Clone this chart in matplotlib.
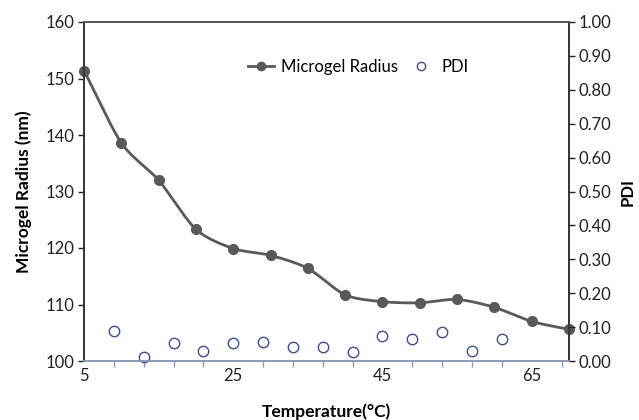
import numpy as np
import matplotlib
matplotlib.use("Agg")
import matplotlib.pyplot as plt
from matplotlib.lines import Line2D

plt.rcParams['font.family'] = ['Lato', 'DejaVu Sans']

temp_radius = [5, 10, 15, 20, 25, 30, 35, 40, 45, 50, 55, 60, 65, 70]
radius = [151.4, 138.6, 132.0, 123.3, 119.9, 118.7, 116.4, 111.7, 110.5, 110.3, 110.9, 109.5, 107.0, 105.6]
temp_pdi = [9, 13, 17, 21, 25, 29, 33, 37, 41, 45, 49, 53, 57, 61]
pdi = [0.088, 0.012, 0.054, 0.029, 0.052, 0.056, 0.040, 0.041, 0.027, 0.073, 0.066, 0.085, 0.030, 0.066]
xticks = [5, 25, 45, 65]
yticks_left = [100, 110, 120, 130, 140, 150, 160]
yticks_right = [0.0, 0.1, 0.2, 0.3, 0.4, 0.5, 0.6, 0.7, 0.8, 0.9, 1.0]


def catmull_rom(x, y, n=30, tension=0.4):
    x = np.asarray(x, float); y = np.asarray(y, float)
    px = np.concatenate([[2*x[0]-x[1]], x, [2*x[-1]-x[-2]]])
    py = np.concatenate([[2*y[0]-y[1]], y, [2*y[-1]-y[-2]]])
    xs, ys = [], []
    t = np.linspace(0, 1, n)
    for i in range(1, len(px)-2):
        for arr, out in ((px, xs), (py, ys)):
            p0, p1, p2, p3 = arr[i-1], arr[i], arr[i+1], arr[i+2]
            m1 = tension*(p2-p0)
            m2 = tension*(p3-p1)
            h00 = 2*t**3-3*t**2+1; h10 = t**3-2*t**2+t
            h01 = -2*t**3+3*t**2; h11 = t**3-t**2
            out.append(h00*p1 + h10*m1 + h01*p2 + h11*m2)
    return np.concatenate(xs), np.concatenate(ys)


fig = plt.figure(figsize=(6.39, 4.20), dpi=100)
ax = fig.add_axes([84/639, 1-361/420, (569-84)/639, (361-22)/420])
ax2 = ax.twinx()

line_c = '#595959'
sx, sy = catmull_rom(temp_radius, radius)
ax.plot(sx, sy, color=line_c, lw=2.0, zorder=3)
ax.plot(temp_radius, radius, 'o', color=line_c, ms=7, zorder=4, clip_on=False)
ax2.plot(temp_pdi, pdi, 'o', mfc='none', mec='#3f4f8c', mew=1.0, ms=7.5, clip_on=False)

ax.set_xlim(5, 70)
ax.set_ylim(100, 160)
ax2.set_ylim(0, 1.0)
ax.set_xticks(xticks)
ax.set_xticks(np.arange(5, 71, 4), minor=True)
ax.set_yticks(yticks_left)
ax2.set_yticks(yticks_right)
ax2.set_yticklabels([f'{v:.2f}' for v in yticks_right])

fs = 12
ax.tick_params(axis='y', direction='out', length=4, width=1, colors='#222222', labelsize=fs, pad=3)
ax2.tick_params(axis='y', direction='out', length=4, width=1, colors='#222222', labelsize=fs, pad=3)
ax.tick_params(axis='x', which='both', direction='out', length=4, width=1, color='#8d9bb8', labelcolor='#222222', labelsize=fs, pad=5)
ax.tick_params(axis='x', which='major', length=0)
for a in (ax, ax2):
    a.spines['left'].set_color('#333333')
    a.spines['right'].set_color('#333333')
    a.spines['top'].set_color('#555555')
    a.spines['bottom'].set_color('#8d9bb8')
    for s in a.spines.values():
        s.set_linewidth(1.2)

ax.set_ylabel('Microgel Radius (nm)', fontsize=12.5, fontweight='bold', labelpad=10)
ax2.set_ylabel('PDI', fontsize=12, fontweight='bold', labelpad=6)
ax.set_xlabel('Temperature(°C)', fontsize=12.5, fontweight='bold', labelpad=14)

handles = [Line2D([], [], color=line_c, lw=2, marker='o', ms=6),
           Line2D([], [], ls='none', marker='o', mfc='none', mec='#3f4f8c', ms=6)]
ax.legend(handles, ['Microgel Radius', 'PDI'], loc='upper center', bbox_to_anchor=(0.565, 0.935),
          ncol=2, frameon=False, fontsize=12, handlelength=1.6, columnspacing=0.6, handletextpad=0.4)

fig.savefig('out.png', dpi=100)
